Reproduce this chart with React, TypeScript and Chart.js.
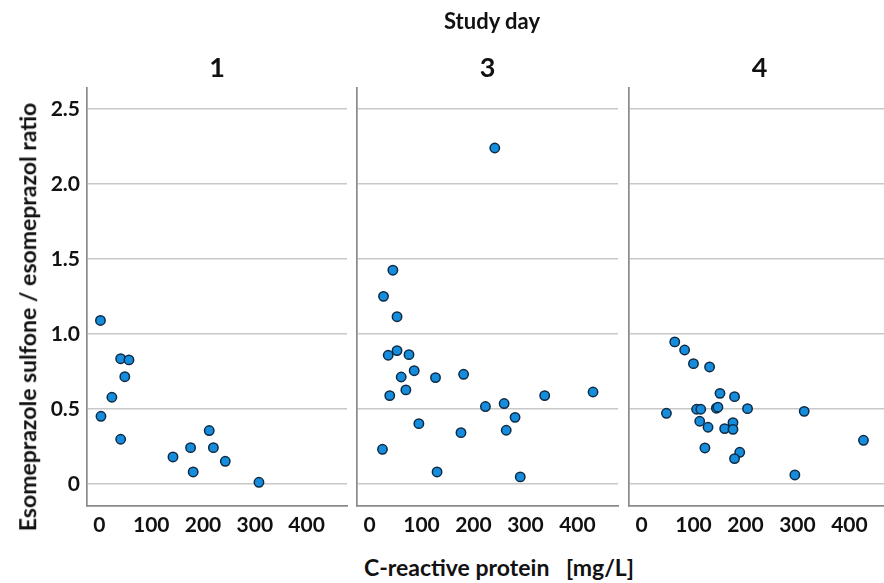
import React, { useEffect, useRef } from "react";
import { Chart, registerables } from "chart.js";

Chart.register(...registerables);

// ---- data ----
const studyDays = ["1", "3", "4"];

const day1Crp = [2, 41, 57, 49, 24, 3, 41, 142, 176, 181, 212, 220, 243, 308];
const day1Ratio = [1.09, 0.835, 0.827, 0.715, 0.578, 0.451, 0.298, 0.18, 0.242, 0.08, 0.356, 0.242, 0.151, 0.011];

const day3Crp = [241, 45, 27, 53, 36, 53, 76, 86, 61, 127, 181, 70, 39, 337, 430, 223, 259, 280, 95, 176, 263, 25, 130, 290];
const day3Ratio = [2.24, 1.425, 1.251, 1.115, 0.858, 0.889, 0.862, 0.755, 0.713, 0.709, 0.731, 0.627, 0.589, 0.589, 0.613, 0.516, 0.536, 0.444, 0.402, 0.342, 0.358, 0.231, 0.08, 0.047];

const day4Crp = [64, 83, 100, 131, 151, 179, 48, 106, 114, 144, 147, 204, 313, 112, 128, 160, 176, 176, 122, 189, 179, 295, 427];
const day4Ratio = [0.947, 0.893, 0.802, 0.78, 0.604, 0.582, 0.471, 0.498, 0.498, 0.505, 0.512, 0.502, 0.484, 0.418, 0.378, 0.369, 0.409, 0.364, 0.24, 0.211, 0.169, 0.06, 0.291];

const xTicks = [0, 100, 200, 300, 400];
const yTicks = [0, 0.5, 1.0, 1.5, 2.0, 2.5];

const titleText = "Study day";
const xTitle = "C-reactive protein   [mg/L]";
const yTitle = "Esomeprazole sulfone / esomeprazol ratio";

// ---- style ----
const FONT = "Lato, 'Open Sans', sans-serif";
const GRID = "#c8c8c8";
const AXIS = "#8a8a8a";
const CANVAS_H = 545;
const TOP = 88;
const XAXIS_H = 39;

type PanelProps = {
  crp: number[];
  ratio: number[];
  showY: boolean;
  left: number;
  width: number;
  axisWidth: number;
};

function Panel({ crp, ratio, showY, left, width, axisWidth }: PanelProps) {
  const ref = useRef<HTMLCanvasElement>(null);
  useEffect(() => {
    const chart = new Chart(ref.current as HTMLCanvasElement, {
      type: "scatter",
      data: {
        datasets: [
          {
            data: crp.map((x, i) => ({ x, y: ratio[i] })),
            backgroundColor: "#168ddc",
            borderColor: "#0e2a44",
            borderWidth: 1.5,
            pointRadius: 4.7,
            pointHoverRadius: 4.7,
          },
        ],
      },
      options: {
        animation: false,
        responsive: false,
        events: [],
        layout: { padding: { left: 0, right: 2, top: TOP, bottom: 0 }, autoPadding: false },
        plugins: {
          legend: { display: false },
          tooltip: { enabled: false },
          title: { display: false },
        },
        scales: {
          x: {
            type: "linear",
            min: -24,
            max: 478,
            afterBuildTicks: (s: any) => {
              s.ticks = xTicks.map((v) => ({ value: v }));
            },
            afterFit: (s: any) => {
              s.height = XAXIS_H;
            },
            grid: { display: false, drawTicks: false },
            border: { display: true, color: AXIS, width: 1.7 },
            ticks: {
              font: { family: FONT, size: 21, weight: "bold" },
              color: "#111",
              padding: 7,
              maxRotation: 0,
              autoSkip: false,
            },
          },
          y: {
            type: "linear",
            min: -0.147,
            max: 2.64,
            afterBuildTicks: (s: any) => {
              s.ticks = yTicks.map((v) => ({ value: v }));
            },
            afterFit: (s: any) => {
              s.width = axisWidth;
            },
            grid: { color: GRID, lineWidth: 1.6, drawTicks: false },
            border: { display: true, color: AXIS, width: 1.7 },
            ticks: {
              display: showY,
              font: { family: FONT, size: 21, weight: "bold" },
              color: "#111",
              padding: 7,
              callback: (v: any) => (Number(v) === 0 ? "0" : Number(v).toFixed(1)),
            },
          },
        },
      },
    } as any);
    return () => chart.destroy();
  }, []);
  return (
    <canvas
      ref={ref}
      width={width}
      height={CANVAS_H}
      style={{ position: "absolute", left, top: 0, display: "block" }}
    />
  );
}

const textBase: React.CSSProperties = {
  position: "absolute",
  fontFamily: FONT,
  fontWeight: 700,
  color: "#111",
  whiteSpace: "pre",
  lineHeight: 1.2,
  transform: "translate(-50%, -50%)",
};

export default function App() {
  const panels = [
    { crp: day1Crp, ratio: day1Ratio, showY: true, left: 0, width: 349, axisWidth: 87 },
    { crp: day3Crp, ratio: day3Ratio, showY: false, left: 350, width: 270, axisWidth: 7 },
    { crp: day4Crp, ratio: day4Ratio, showY: false, left: 622, width: 270, axisWidth: 7 },
  ];
  const titleCenters = [217, 487.5, 759.5];
  return (
    <div
      style={{
        position: "absolute",
        left: 0,
        top: 0,
        width: 884,
        height: 583,
        overflow: "hidden",
        background: "#fff",
      }}
    >
      {panels.map((p, i) => (
        <Panel key={i} {...p} />
      ))}
      <div style={{ ...textBase, left: 492, top: 21, fontSize: 22 }}>{titleText}</div>
      {studyDays.map((d, i) => (
        <div key={d} style={{ ...textBase, left: titleCenters[i], top: 67, fontSize: 27 }}>
          {d}
        </div>
      ))}
      <div style={{ ...textBase, left: 499, top: 568, fontSize: 23 }}>{xTitle}</div>
      <div
        style={{
          ...textBase,
          left: 28,
          top: 317,
          fontSize: 23,
          transform: "translate(-50%, -50%) rotate(-90deg)",
        }}
      >
        {yTitle}
      </div>
    </div>
  );
}
